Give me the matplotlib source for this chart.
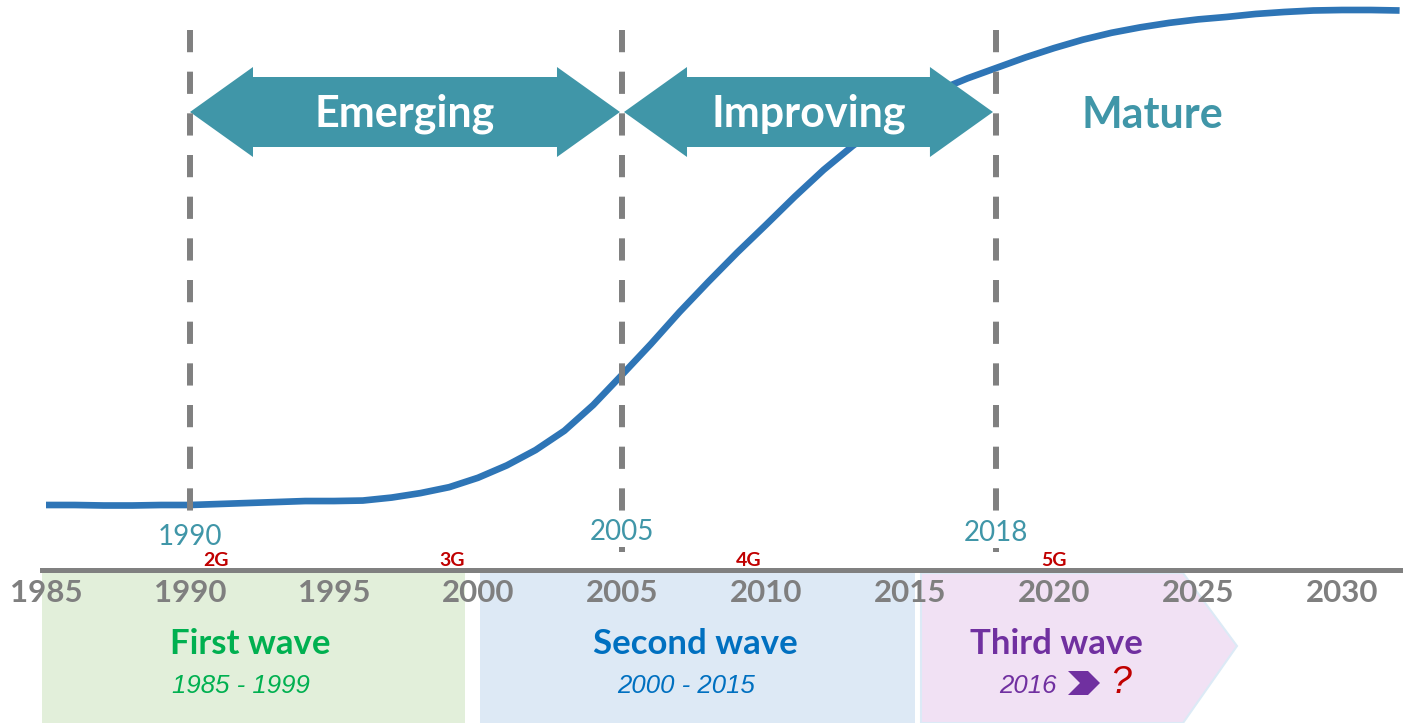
import matplotlib
matplotlib.use("Agg")
import matplotlib.pyplot as plt
from matplotlib.patches import Polygon, Rectangle

plt.rcParams['lines.scale_dashes'] = False

# ---------------- data ----------------
years = list(range(1985, 2033))
maturity = [0, 0, -0.1, -0.1, 0, 0, 0.2, 0.4, 0.6, 0.8, 0.8, 0.9, 1.5, 2.4, 3.6,
            5.5, 8.0, 11.1, 15.0, 20.2, 26.3, 32.5, 39.0, 45.1, 51.0, 56.6, 62.3,
            67.7, 72.5, 76.8, 80.5, 83.8, 86.2, 88.3, 90.4, 92.3, 94.0, 95.4, 96.5,
            97.4, 98.1, 98.6, 99.2, 99.6, 99.9, 100, 100, 99.9]

tick_years = [1985, 1990, 1995, 2000, 2005, 2010, 2015, 2020, 2025, 2030]
milestone_years = [1990, 2005, 2018]
phase_labels = ["Emerging", "Improving", "Mature"]
generation_labels = ["2G", "3G", "4G", "5G"]
generation_years = [1990.9, 1999.1, 2009.4, 2020.0]
wave_titles = ["First wave", "Second wave", "Third wave"]
wave_periods = ["1985 - 1999", "2000 - 2015", "2016"]

# ---------------- layout helpers ----------------
PX_PER_YEAR = 28.8
X0_PX = 46          # pixel of 1985
BASE_PX = 505       # pixel row of maturity 0
PX_PER_UNIT = 4.95  # pixels per maturity unit


def X(px):
    return 1985 + (px - X0_PX) / PX_PER_YEAR


def Y(py):
    return (BASE_PX - py) / PX_PER_UNIT


fig = plt.figure(figsize=(14.03, 7.23), dpi=100)
ax = fig.add_axes([0, 0, 1, 1])
ax.set_xlim(X(0), X(1403))
ax.set_ylim(Y(723), Y(0))
for s in ['top', 'left', 'right']:
    ax.spines[s].set_visible(False)
ax.set_yticks([])

GRAY = '#7F7F7F'
TEAL = '#4096A8'
BLUE = '#2E75B6'
RED = '#C00000'
FONT = ['Lato', 'DejaVu Sans']
IFONT = ['Liberation Sans', 'DejaVu Sans']

# axis line as the bottom spine
sp = ax.spines['bottom']
sp.set_position(('data', Y(570)))
sp.set_bounds(X(42), X(1403))
sp.set_color('#808080')
sp.set_linewidth(3.6)
ax.set_xticks(tick_years)
ax.set_xticklabels([str(t) for t in tick_years], fontfamily=FONT,
                   fontweight='bold', fontsize=22.5, color=GRAY)
ax.tick_params(axis='x', length=0, pad=6.5)

# S-curve
ax.plot(years, maturity, color=BLUE, lw=4.8, solid_capstyle='butt',
        solid_joinstyle='round', zorder=2)

# dashed milestone lines
for yr in milestone_years:
    ax.plot([yr, yr], [Y(30), Y(552)], color='#808080', lw=4.3,
            linestyle=(0, (16, 14)), zorder=4)

# milestone year labels (white background hides the dashed line)
lab_base = [545, 540, 541]
for yr, b in zip(milestone_years, lab_base):
    ax.text(yr, Y(b), str(yr), ha='center', va='baseline', fontsize=20,
            fontfamily=FONT, color=TEAL, zorder=5,
            bbox=dict(facecolor='white', edgecolor='none', pad=1.5))

# double arrows
head_len = 63 / PX_PER_YEAR
cy, body, head = 112, 35, 45
arrow_spans = [(milestone_years[0], milestone_years[1] - 0.07),
               (milestone_years[1] + 0.07, milestone_years[2] - 0.12)]
for (a, b), lab in zip(arrow_spans, phase_labels[:2]):
    pts = [(a, Y(cy)), (a + head_len, Y(cy - head)), (a + head_len, Y(cy - body)),
           (b - head_len, Y(cy - body)), (b - head_len, Y(cy - head)),
           (b, Y(cy)), (b - head_len, Y(cy + head)), (b - head_len, Y(cy + body)),
           (a + head_len, Y(cy + body)), (a + head_len, Y(cy + head))]
    ax.add_patch(Polygon(pts, closed=True, facecolor=TEAL, edgecolor='none', zorder=3))
    ax.text((a + b) / 2, Y(127), lab, ha='center', va='baseline', fontsize=31,
            fontweight='bold', fontfamily=FONT, color='white', zorder=5)

ax.text(X(1152), Y(128), phase_labels[2], ha='center', va='baseline', fontsize=31,
        fontweight='bold', fontfamily=FONT, color=TEAL, zorder=5)

# generation labels
for g, yr in zip(generation_labels, generation_years):
    ax.text(yr, Y(566.5), g, ha='center', va='baseline', fontsize=14,
            fontweight='bold', fontfamily=FONT, color=RED, zorder=5)

# wave bands
band_top, band_bot = Y(573), Y(723)
ax.add_patch(Rectangle((X(42), band_bot), X(465) - X(42), band_top - band_bot,
                       facecolor='#E2EFDA', edgecolor='none', zorder=1))
ax.add_patch(Rectangle((X(480), band_bot), X(915) - X(480), band_top - band_bot,
                       facecolor='#DDE9F5', edgecolor='none', zorder=1))
ax.add_patch(Polygon([(X(921), band_top), (X(1183), band_top), (X(1237), Y(646)),
                      (X(1183), band_bot), (X(921), band_bot)], closed=True,
                     facecolor='#F1E1F4', edgecolor='#DCEAF6', lw=1.5, zorder=1))

wave_colors = ['#00B050', '#0070C0', '#7030A0']
title_x = [250, 695, 1056]
for t, px, c in zip(wave_titles, title_x, wave_colors):
    ax.text(X(px), Y(654), t, ha='center', va='baseline', fontsize=25,
            fontweight='bold', fontfamily=FONT, color=c, zorder=5)

period_x = [241, 686]
for p, px, c in zip(wave_periods[:2], period_x, wave_colors[:2]):
    ax.text(X(px), Y(693), p, ha='center', va='baseline', fontsize=18.5,
            fontstyle='italic', fontfamily=IFONT, color=c, zorder=5)

ax.text(X(1028), Y(693), wave_periods[2], ha='center', va='baseline', fontsize=18.5,
        fontstyle='italic', fontfamily=IFONT, color=wave_colors[2], zorder=5)
chev = [(1068, 671), (1088, 671), (1100, 683), (1088, 695), (1068, 695), (1080, 683)]
ax.add_patch(Polygon([(X(a), Y(b)) for a, b in chev], closed=True,
                     facecolor=wave_colors[2], edgecolor='none', zorder=5))
ax.text(X(1121), Y(693), '?', ha='center', va='baseline', fontsize=27,
        fontstyle='italic', fontfamily=IFONT, color=RED, zorder=5)

fig.savefig('out.png', dpi=100)
